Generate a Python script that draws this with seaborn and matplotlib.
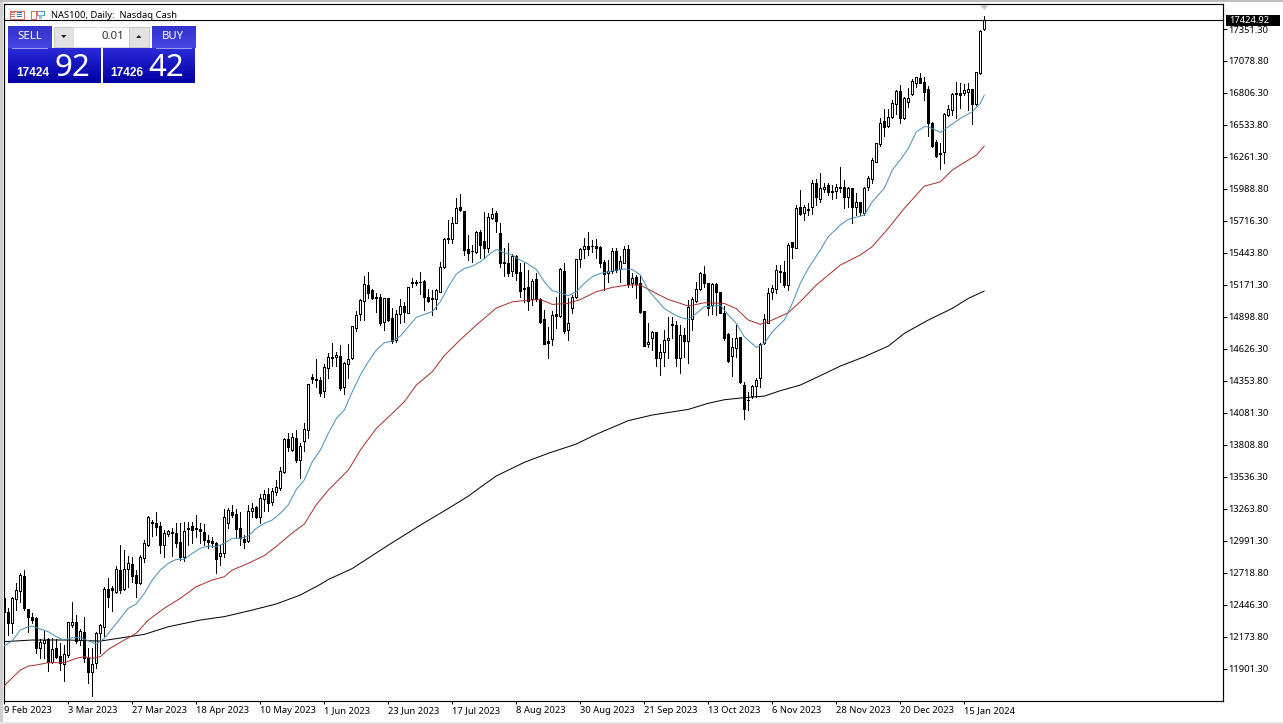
import numpy as np
import pandas as pd
import matplotlib
matplotlib.use("Agg")
import matplotlib.pyplot as plt
from matplotlib.patches import Rectangle, Polygon
import seaborn as sns

# ---------- data ----------
open_prices = [
 12503,12389,12290,12494,12568,12693,12409,12341,12332,12077,
 12125,12153,11963,12077,12011,11943,12020,12278,12298,12148,
 12216,11992,11878,11949,12205,12261,12579,12588,12560,12744,
 12579,12753,12795,12702,12636,12844,12957,13153,13142,13119,
 12957,13051,13071,13057,12986,12852,13099,13119,13099,13091,
 13071,12997,12991,12977,12863,12892,13142,13241,13221,13099,
 13008,12994,13250,13278,13193,13345,13390,13325,13410,13444,
 13581,13856,13765,13865,13680,13839,13936,14384,14370,14362,
 14265,14461,14546,14555,14569,14305,14495,14546,14807,14921,
 15037,15171,15128,15066,15066,14859,15057,14887,14702,14921,
 14992,14935,15185,15194,15199,15208,15066,15057,15049,15114,
 15321,15568,15559,15701,15832,15804,15474,15463,15454,15625,
 15545,15483,15744,15787,15611,15369,15361,15292,15420,15281,
 15148,15151,15048,15224,15048,14881,14693,14713,14921,14906,
 15290,14787,14972,15065,15389,15474,15503,15503,15506,15491,
 15369,15275,15292,15463,15304,15361,15477,15185,15241,15185,
 14952,14668,14716,14770,14551,14597,14702,14838,14830,14551,
 14744,14696,14878,15037,15133,15261,15185,15000,15179,15108,
 14929,14753,14568,14631,14725,14318,14195,14225,14310,14376,
 14674,14844,15114,15134,15290,15279,15171,15535,15489,15833,
 15782,15821,15838,16037,15901,15986,16020,15969,15969,16009,
 16003,15918,15995,15833,15875,15782,16009,16070,16221,16371,
 16567,16524,16598,16712,16826,16590,16732,16797,16894,16936,
 16897,16837,16553,16391,16292,16306,16618,16661,16803,16803,
 16803,16817,16837,16712,16973,17348]
high_prices = [
 12503,12418,12517,12636,12716,12744,12409,12381,12341,12153,
 12227,12162,12162,12153,12119,12105,12304,12469,12361,12239,
 12341,12077,12077,12219,12284,12602,12679,12608,12778,12957,
 12915,12863,12858,12744,12872,12999,13204,13170,13235,13156,
 13085,13085,13105,13142,13142,13156,13156,13156,13213,13142,
 13136,13042,13028,12986,12957,13261,13270,13298,13261,13241,
 13042,13298,13312,13289,13392,13424,13439,13439,13510,13623,
 13865,13907,13907,13936,13828,13992,14327,14413,14541,14384,
 14498,14595,14674,14603,14660,14518,14668,14822,14952,15049,
 15248,15279,15134,15100,15094,15063,15063,14972,14958,15049,
 15029,15157,15228,15214,15279,15214,15134,15128,15134,15370,
 15568,15724,15753,15909,15946,15804,15596,15511,15633,15639,
 15795,15781,15824,15804,15696,15483,15525,15435,15426,15355,
 15361,15298,15219,15270,15057,14957,14815,14952,15065,15312,
 15355,15057,15085,15389,15483,15568,15625,15554,15559,15503,
 15383,15383,15483,15483,15417,15503,15511,15270,15256,15256,
 14952,14844,14778,14773,14673,14787,14895,14895,14867,14830,
 14801,15043,15065,15199,15284,15332,15190,15190,15190,15114,
 14992,14759,14716,14830,14730,14347,14260,14319,14376,14680,
 14924,15143,15171,15341,15341,15378,15532,15540,15853,15980,
 15853,15867,16066,16071,16122,16037,16037,16023,16032,16174,
 16066,16009,15995,15952,15881,16009,16100,16249,16377,16590,
 16666,16666,16746,16831,16874,16774,16845,16922,16939,16973,
 16945,16865,16561,16405,16377,16632,16703,16803,16902,16888,
 16882,16888,16837,16987,17342,17462]
low_prices = [
 12389,12190,12205,12403,12474,12403,12219,12290,12040,11992,
 11992,11887,11949,11992,11892,11801,12006,12261,12125,12105,
 11963,11779,11673,11906,12034,12182,12432,12398,12545,12545,
 12574,12602,12645,12517,12625,12815,12949,13034,13042,12886,
 12852,13034,12863,12943,12829,12824,12957,12971,13022,12971,
 12957,12929,12943,12721,12787,12852,13099,13199,13022,12957,
 12929,12986,13193,13184,13142,13248,13248,13297,13382,13424,
 13572,13760,13760,13666,13524,13760,13865,14333,14305,14225,
 14214,14376,14481,14481,14276,14240,14376,14538,14782,14873,
 14873,15057,15049,14944,14830,14788,14867,14680,14688,14844,
 14859,14935,15151,15171,15094,14958,15029,14915,14964,15114,
 15312,15525,15525,15696,15804,15426,15383,15369,15446,15398,
 15398,15454,15730,15625,15321,15247,15247,15247,15213,15071,
 15028,14957,14999,15037,14844,14673,14546,14659,14801,14901,
 14764,14702,14935,15057,15327,15398,15426,15454,15398,15321,
 15128,15199,15275,15284,15199,15355,15156,15156,15057,14935,
 14654,14645,14617,14480,14409,14480,14546,14716,14480,14423,
 14560,14503,14787,15028,15128,15156,14915,14923,14915,14929,
 14707,14517,14395,14560,14333,14026,14106,14205,14220,14305,
 14668,14844,15049,15100,15199,15157,15128,15398,15483,15767,
 15725,15767,15776,15853,15881,15966,15938,15901,15909,15966,
 15824,15833,15696,15767,15767,15767,15980,16036,16221,16357,
 16439,16513,16590,16627,16553,16581,16689,16789,16860,16888,
 16746,16439,16343,16258,16158,16212,16610,16618,16590,16675,
 16789,16661,16541,16703,16968,17342]
close_prices = [
 12389,12290,12509,12574,12702,12418,12341,12318,12077,12128,
 12148,11963,12068,12006,11949,12028,12301,12298,12142,12227,
 11992,11878,11943,12205,12276,12582,12517,12574,12750,12574,
 12750,12801,12693,12636,12852,12971,13193,13147,13113,12957,
 13062,13076,13062,12977,12852,13079,13093,13085,13091,13079,
 13000,12986,12971,12838,12886,13193,13255,13213,13091,13014,
 12980,13247,13275,13193,13355,13388,13317,13416,13453,13586,
 13856,13788,13873,13680,13799,13941,14325,14367,14364,14254,
 14470,14555,14560,14572,14296,14504,14543,14822,14915,15043,
 15177,15106,15057,15063,14850,15057,14873,14694,14921,14992,
 14944,15151,15199,15191,15197,15072,15035,15049,15128,15322,
 15559,15559,15696,15824,15809,15469,15440,15457,15625,15511,
 15483,15747,15775,15719,15361,15361,15275,15417,15275,15119,
 15136,15037,15207,15048,14858,14673,14679,14915,14909,15304,
 14781,14844,15065,15389,15474,15503,15474,15500,15489,15361,
 15261,15292,15460,15298,15375,15474,15179,15227,15179,14943,
 14654,14688,14773,14546,14597,14707,14722,14832,14551,14744,
 14696,14980,15048,15133,15270,15185,14972,15179,15114,14935,
 14722,14526,14639,14716,14347,14111,14190,14313,14362,14668,
 14878,15100,15143,15299,15285,15171,15512,15492,15824,15776,
 15833,15810,16043,15918,15995,16009,15966,15963,16009,15997,
 15918,15995,15833,15875,15790,15995,16080,16235,16377,16547,
 16519,16604,16718,16823,16590,16760,16760,16908,16939,16891,
 16817,16553,16354,16269,16286,16624,16666,16794,16794,16791,
 16831,16840,16712,16982,17334,17424.92]

blue_bars = [0,2,4,6,7,9,11,13,15,17,19,21,23,25,27,29,31,33,35,37,39,41,43,45,47,49,
 51,53,55,57,59,61,63,65,67,69,71,73,75,77,79,81,83,85,87,89,91,93,95,97,99,
 101,103,105,107,109,111,113,115,117,119,121,123,125,127,129,131,133,135,137,139,
 141,143,145,147,149,151,153,155,157,159,161,163,165,167,169,171,173,175,177,179,
 181,183,185,188,190,192,195,197,199,201,204,206,209,211,215,217,220,222,224,226,
 228,230,231,234,236,239,242,244,245]
blue_values = [12097,12142,12233,12261,12267,12241,12219,12176,12145,12168,12168,12142,12114,
 12162,12247,12332,12418,12455,12545,12659,12744,12801,12835,12835,12886,12929,
 12949,12943,12971,13014,13014,13034,13099,13142,13170,13227,13298,13430,13510,13666,
 13765,13907,14035,14106,14262,14404,14518,14617,14680,14694,14736,
 14816,14896,14921,14944,15028,15156,15264,15312,15332,15369,15426,15474,15446,15426,
 15383,15349,15304,15199,15122,15105,15080,15114,15185,15241,15270,15284,15298,15307,
 15304,15256,15128,15048,14972,14929,14895,14878,14929,14986,14992,14999,
 14915,14844,14731,14640,14674,14773,14873,15015,15185,15313,15469,15583,15682,15730,
 15767,15881,15995,16151,16236,16334,16476,16519,16519,16470,16519,16590,16647,16718,16789]

red_bars = [0,1,4,6,8,11,15,18,20,22,24,26,30,33,36,40,44,48,52,55,57,61,65,68,72,75,78,81,
 86,89,93,97,100,103,107,110,114,118,123,127,131,134,137,141,144,148,152,156,159,163,166,
 171,175,180,183,186,189,192,196,199,203,209,214,217,221,225,230,234,237,241,243,245]
red_values = [11756,11793,11892,11926,11935,11955,11955,11992,12006,11992,12006,12068,12148,
 12205,12318,12418,12503,12602,12659,12687,12744,12801,12867,12945,13060,13135,13300,13424,
 13595,13765,13950,14078,14177,14319,14433,14570,14705,14830,14975,15028,15043,15048,15006,
 15014,15048,15114,15151,15171,15171,15100,15048,14992,15020,15014,14970,14873,14836,14873,
 14935,15029,15171,15341,15427,15498,15654,15824,16013,16050,16150,16235,16277,16354]

black_bars = [0,7,16,24,30,35,41,49,55,62,68,74,79,81,87,96,104,111,116,119,123,130,136,143,
 148,156,162,171,176,180,185,190,194,199,204,209,215,221,225,231,237,241,245]
black_values = [12134,12148,12148,12139,12170,12196,12261,12318,12347,12403,12455,12531,12622,
 12663,12757,12956,13126,13268,13373,13448,13545,13661,13738,13817,13900,14016,14064,14112,
 14164,14194,14212,14225,14271,14319,14399,14481,14560,14651,14759,14873,14972,15057,15120]

date_ticks = ["9 Feb 2023","3 Mar 2023","27 Mar 2023","18 Apr 2023","10 May 2023","1 Jun 2023",
 "23 Jun 2023","17 Jul 2023","8 Aug 2023","30 Aug 2023","21 Sep 2023","13 Oct 2023",
 "6 Nov 2023","28 Nov 2023","20 Dec 2023","15 Jan 2024"]
price_ticks = [17351.30,17078.80,16806.30,16533.80,16261.30,15988.80,15716.30,15443.80,15171.30,
 14898.80,14626.30,14353.80,14081.30,13808.80,13536.30,13263.80,12991.30,12718.80,12446.30,
 12173.80,11901.30]
last_price = 17424.92
title_text = "NAS100, Daily:  Nasdaq Cash"

# ---------- figure ----------
W, H = 1283, 724
sns.set_theme(style="white")
FONT = ["Noto Sans", "DejaVu Sans"]
plt.rcParams["font.family"] = FONT
fig = plt.figure(figsize=(W/100, H/100), dpi=100, facecolor="white")
L, R, T, B = 4.0, 1223.3, 4.0, 701.0
ax = fig.add_axes([L/W, (H-B)/H, (R-L)/W, (B-T)/H])
ax.set_facecolor("white")
ax.set_xlim(-0.075, 304.75)
ax.set_ylim(11628.6, 17564.2)

def px_rect(x, y, w, h, fc, ec="none", lw=0, z=5):
    r = Rectangle((x, H-y-h), w, h, transform=None, facecolor=fc, edgecolor=ec,
                  linewidth=lw, zorder=z, antialiased=False)
    fig.add_artist(r)
    return r

def px_text(x, y, s, size, color="black", ha="left", weight="normal", z=8, family=None):
    fig.text(x/W, (H-y)/H, s, fontsize=size, color=color, ha=ha, va="center",
             fontweight=weight, zorder=z, family=family or FONT)

def px_grad(x, y, w, h, c_top, c_bot):
    a = fig.add_axes([x/W, (H-y-h)/H, w/W, h/H], zorder=3)
    t = np.linspace(0, 1, max(int(h), 2))[:, None]
    c0, c1 = np.array(matplotlib.colors.to_rgb(c_top)), np.array(matplotlib.colors.to_rgb(c_bot))
    a.imshow((c0*(1-t) + c1*t)[:, None, :].reshape(len(t), 1, 3), aspect="auto", interpolation="bilinear")
    a.axis("off")

# ---------- candles ----------
bars = pd.DataFrame({"bar": np.arange(len(open_prices)), "open": open_prices, "high": high_prices,
                     "low": low_prices, "close": close_prices})
up = bars["close"] >= bars["open"]
ax.vlines(bars["bar"], bars["low"], bars["high"], color="black", lw=0.6, zorder=2, antialiased=False)
for mask, fc in ((up, "white"), (~up, "black")):
    d = bars[mask]
    ax.bar(d["bar"], (d["close"]-d["open"]).abs(), bottom=d[["open", "close"]].min(axis=1), width=0.5,
           facecolor=fc, edgecolor="black", linewidth=0.6, zorder=3, antialiased=False)

# ---------- moving averages ----------
for xs, ys, col in ((black_bars, black_values, "#000000"),
                    (red_bars, red_values, "#a8322e"),
                    (blue_bars, blue_values, "#4a90bc")):
    sns.lineplot(x=xs, y=ys, color=col, linewidth=0.72, ax=ax, legend=False, errorbar=None, zorder=4)

ax.axhline(last_price, color="black", lw=0.8, zorder=5)

# ---------- axes ----------
ax.set_xticks(np.arange(len(date_ticks))*16)
ax.set_xticklabels(date_ticks, ha="left", fontsize=6.75, color="black")
ax.set_yticks(price_ticks)
ax.set_yticklabels([f"{p:.2f}" for p in price_ticks], fontsize=6.75, color="black")
ax.yaxis.tick_right()
ax.tick_params(axis="x", bottom=True, length=2.3, width=0.75, pad=1.2, color="black")
ax.tick_params(axis="y", right=True, length=2.9, width=0.75, pad=0.6, color="black")
ax.set_xlabel(""); ax.set_ylabel("")
for s in ax.spines.values():
    s.set_visible(True); s.set_color("black"); s.set_linewidth(0.85)

# grey marker above the last bar
ax.add_patch(Polygon([(980, H-5), (988.5, H-5), (984.2, H-10)], closed=True, transform=None,
                     facecolor="#c4c4c4", edgecolor="none", zorder=6))

# last-price tag
px_rect(1226, 15, 54, 11, "black", z=6)
px_text(1229.5, 20.5, f"{last_price:.2f}", 6.75, color="white")

# window edge
px_rect(0, 0, 2.5, H, "#cfcfcf", z=1)
px_rect(0, 0, W, 1.5, "#bdbdbd", z=1)
px_rect(0, 721.5, W, 2.5, "#e4e4e4", z=1)

# ---------- title and icons ----------
px_text(50.5, 15.6, title_text, 6.75)
px_rect(9.5, 10.5, 14, 8.5, "white", ec="#d8705c", lw=0.6)
for yy in (12, 14, 16):
    px_rect(11, yy, 4, 1, "#d8705c", z=6)
    px_rect(17, yy, 5, 1, "#3b78c8", z=6)
px_rect(30.5, 10.5, 5.5, 8.5, "white", ec="#d8705c", lw=0.6)
px_rect(37, 10.5, 6.5, 4, "white", ec="#5a9ad0", lw=0.6)
px_rect(39, 14.5, 3, 4.5, "#8fc0e0", z=6)

# ---------- trade panel ----------
px_grad(8, 26, 44, 22, "#3232cc", "#4646e6")
px_grad(151.5, 26, 43.5, 22, "#3232cc", "#4646e6")
px_grad(8, 48, 92.5, 35, "#2a2ad8", "#0000a4")
px_grad(103, 48, 92, 35, "#2a2ad8", "#0000a4")
px_rect(12, 47.5, 36, 1, "#9a9af0", z=7)
px_rect(155.5, 47.5, 36, 1, "#9a9af0", z=7)

px_rect(54, 27, 19, 19.5, "#e2e2e2", ec="#c8c8c8", lw=0.6)
px_rect(73, 27, 56, 19.5, "white", ec="#dcdcdc", lw=0.6)
px_rect(129, 27, 20, 19.5, "#e2e2e2", ec="#c8c8c8", lw=0.6)
fig.add_artist(Polygon([(61, H-35), (66.5, H-35), (63.7, H-38)], closed=True, transform=None,
                       facecolor="#202020", edgecolor="none", zorder=7))
fig.add_artist(Polygon([(136, H-38), (141.5, H-38), (138.7, H-35)], closed=True, transform=None,
                       facecolor="#202020", edgecolor="none", zorder=7))

px_text(29.5, 36.8, "SELL", 8.2, color="white", ha="center")
px_text(172.5, 36.8, "BUY", 8.2, color="white", ha="center")
px_text(124.5, 36.4, "0.01", 8.2, color="#303030", ha="right")
px_text(16.5, 73.2, "17424", 8.6, color="white", weight="bold", family="Liberation Sans")
px_text(54, 67.5, "92", 22.5, color="white")
px_text(110.5, 73.2, "17426", 8.6, color="white", weight="bold", family="Liberation Sans")
px_text(148.5, 67.5, "42", 22.5, color="white")

fig.savefig("out.png", dpi=100, facecolor="white")
